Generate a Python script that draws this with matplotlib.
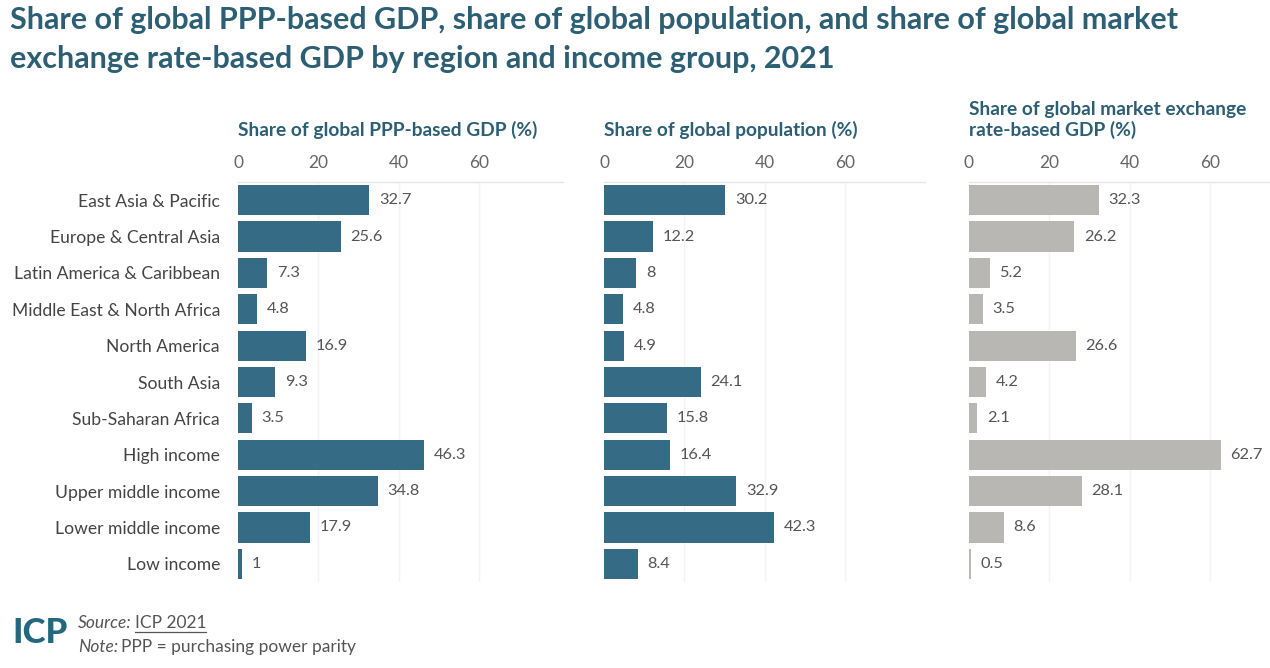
import matplotlib
matplotlib.use("Agg")
import matplotlib.pyplot as plt

categories = ["East Asia & Pacific", "Europe & Central Asia", "Latin America & Caribbean",
              "Middle East & North Africa", "North America", "South Asia", "Sub-Saharan Africa",
              "High income", "Upper middle income", "Lower middle income", "Low income"]
ppp_gdp = [32.7, 25.6, 7.3, 4.8, 16.9, 9.3, 3.5, 46.3, 34.8, 17.9, 1]
population = [30.2, 12.2, 8, 4.8, 4.9, 24.1, 15.8, 16.4, 32.9, 42.3, 8.4]
mer_gdp = [32.3, 26.2, 5.2, 3.5, 26.6, 4.2, 2.1, 62.7, 28.1, 8.6, 0.5]
ticks = [0, 20, 40, 60]

panel_titles = ["Share of global PPP-based GDP (%)",
                "Share of global population (%)",
                "Share of global market exchange\nrate-based GDP (%)"]

BLUE = "#356b84"
GREY = "#b9b7b3"
TITLE_C = "#2c5f74"
FONT = "Lato"

plt.rcParams["font.family"] = [FONT, "DejaVu Sans"]

fig = plt.figure(figsize=(12.7, 6.68), dpi=100)
W, H = 1270, 668

def fx(px):
    return px / W

def fy(py):
    return 1 - py / H

top_px, bot_px = 182, 582
panels = [
    (238, 81, ppp_gdp, BLUE),
    (604, 80, population, BLUE),
    (969, 75, mer_gdp, GREY),
]
ppu = 4.015
for i, (left_px, xmax, vals, col) in enumerate(panels):
    ax = fig.add_axes([fx(left_px), fy(bot_px), xmax * ppu / W, (bot_px - top_px) / H])
    y = list(range(len(categories)))
    ax.barh(y, vals, height=0.83, color=col, edgecolor="none")
    ax.set_xlim(0, xmax)
    ax.set_ylim(len(categories) - 0.5, -0.5)
    ax.xaxis.tick_top()
    ax.set_xticks(ticks)
    ax.set_xticklabels([str(t) for t in ticks], fontsize=12.5, color="#666666")
    ax.tick_params(axis="x", length=0, pad=8)
    for t in ticks[1:]:
        ax.axvline(t, color="#f3f3f3", lw=1, zorder=0)
    for s in ["left", "right", "bottom"]:
        ax.spines[s].set_visible(False)
    ax.spines["top"].set_color("#e6e6e6")
    ax.spines["top"].set_linewidth(1)
    if i == 0:
        ax.set_yticks(y)
        ax.set_yticklabels(categories, fontsize=12.6, color="#444444")
        ax.tick_params(axis="y", length=0, pad=13)
    else:
        ax.set_yticks([])
    for yy, v in zip(y, vals):
        ax.annotate(f"{v:g}", (v, yy), xytext=(7, 0), textcoords="offset points",
                    va="center", ha="left", fontsize=11.8, color="#555555")
    ax.set_facecolor("none")
    # panel title
    if i < 2:
        fig.text(fx(left_px), fy(130), panel_titles[i], fontsize=13.8, fontweight="bold",
                 color=TITLE_C, ha="left", va="center")
    else:
        l1, l2 = panel_titles[i].split("\n")
        fig.text(fx(left_px), fy(109), l1, fontsize=13.8, fontweight="bold",
                 color=TITLE_C, ha="left", va="center")
        fig.text(fx(left_px), fy(130), l2, fontsize=13.8, fontweight="bold",
                 color=TITLE_C, ha="left", va="center")

fig.text(fx(10), fy(20), "Share of global PPP-based GDP, share of global population, and share of global market",
         fontsize=22, fontweight="bold", color=TITLE_C, ha="left", va="center")
fig.text(fx(10), fy(59), "exchange rate-based GDP by region and income group, 2021",
         fontsize=22, fontweight="bold", color=TITLE_C, ha="left", va="center")

# logo
fig.text(fx(12), fy(633), "ICP", fontsize=25, fontweight="black", color="#23687c",
         ha="left", va="center")
# source and note
t1 = fig.text(fx(78), fy(623), "Source:", fontsize=12.5, style="italic", color="#555555",
              ha="left", va="center")
fig.canvas.draw()
r = fig.canvas.get_renderer()
bb = t1.get_window_extent(renderer=r)
t2 = fig.text(bb.x1 / W + fx(3), fy(623), "ICP 2021", fontsize=12.5, color="#555555",
              ha="left", va="center")
bb2 = t2.get_window_extent(renderer=r)
fig.add_artist(plt.Line2D([bb2.x0 / W, bb2.x1 / W], [fy(632), fy(632)],
                          color="#555555", lw=0.9, transform=fig.transFigure))
t3 = fig.text(fx(78), fy(647), "Note:", fontsize=12.5, style="italic", color="#555555",
              ha="left", va="center")
bb3 = t3.get_window_extent(renderer=r)
fig.text(bb3.x1 / W + fx(3), fy(647), "PPP = purchasing power parity", fontsize=12.5,
         color="#555555", ha="left", va="center")

fig.savefig("out.png", dpi=100, facecolor="white")
